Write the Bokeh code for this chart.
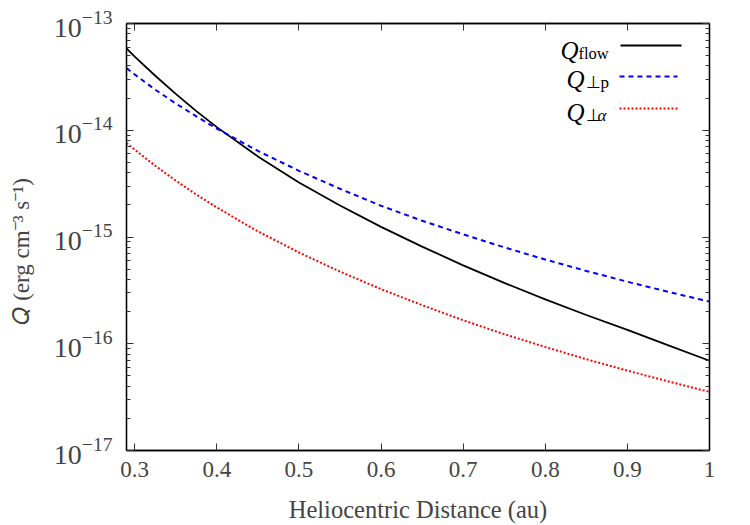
from bokeh.embed import file_html
from bokeh.models import (Arrow, CustomJSTickFormatter, FixedTicker, Label,
                          LinearAxis, LogAxis, LogTickFormatter, Range1d)
from bokeh.plotting import figure
from bokeh.resources import INLINE

# Heating rates versus heliocentric distance (erg cm^-3 s^-1)
r_au = [0.29, 0.30, 0.325, 0.35, 0.375, 0.40, 0.45, 0.50, 0.55, 0.60,
        0.65, 0.70, 0.75, 0.80, 0.85, 0.90, 0.95, 1.00]

q_flow = [5.83e-14, 4.90e-14, 3.24e-14, 2.19e-14, 1.51e-14, 1.07e-14,
          5.69e-15, 3.24e-15, 1.97e-15, 1.245e-15, 8.13e-16, 5.43e-16,
          3.72e-16, 2.60e-16, 1.86e-16, 1.35e-16, 9.66e-17, 6.93e-17]

q_perp_p = [3.82e-14, 3.33e-14, 2.40e-14, 1.78e-14, 1.35e-14, 1.035e-14,
            6.40e-15, 4.17e-15, 2.83e-15, 1.96e-15, 1.42e-15, 1.06e-15,
            8.00e-16, 6.15e-16, 4.81e-16, 3.81e-16, 3.06e-16, 2.48e-16]

q_perp_alpha = [7.59e-15, 6.58e-15, 4.65e-15, 3.37e-15, 2.50e-15, 1.89e-15,
                1.13e-15, 7.16e-16, 4.74e-16, 3.25e-16, 2.30e-16, 1.66e-16,
                1.23e-16, 9.33e-17, 7.16e-17, 5.60e-17, 4.43e-17, 3.54e-17]

x_ticks = [0.3, 0.4, 0.5, 0.6, 0.7, 0.8, 0.9, 1.0]
y_decades = [-17, -16, -15, -14, -13]

SERIF = "Liberation Serif"

y_major = [10.0 ** e for e in y_decades]
y_minor = [m * 10.0 ** e for e in y_decades[:-1] for m in range(2, 10)]

p = figure(width=750, height=525,
           x_range=Range1d(0.29, 1.0), y_range=Range1d(1e-17, 1e-13),
           y_axis_type="log", output_backend="svg", toolbar_location=None,
           min_border_left=126, min_border_right=41,
           min_border_top=23, min_border_bottom=74)
p.grid.visible = False
p.outline_line_color = "black"
p.outline_line_width = 1.3
p.background_fill_color = "white"
p.border_fill_color = "white"

series = [
    (q_flow, dict(line_color="black", line_width=1.8)),
    (q_perp_p, dict(line_color="#0000ff", line_width=2, line_dash="5 4")),
    (q_perp_alpha, dict(line_color="#ff0000", line_width=2, line_dash="2 2")),
]
for values, style in series:
    p.line(r_au, values, **style)


def style_axis(ax, minor=True):
    ax.axis_line_color = "black"
    ax.axis_line_width = 1.3
    ax.major_tick_in = 7
    ax.major_tick_out = 0
    ax.minor_tick_in = 4
    ax.minor_tick_out = 0
    ax.major_tick_line_color = "#333333"
    ax.minor_tick_line_color = "#333333" if minor else None


# bottom x axis
xa = p.xaxis[0]
xa.ticker = FixedTicker(ticks=x_ticks)
xa.major_label_overrides = {1.0: "1"}
xa.major_label_text_font = SERIF
xa.major_label_text_font_size = "23px"
xa.major_label_standoff = 11
xa.axis_label = "Heliocentric Distance (au)"
xa.axis_label_text_font = SERIF
xa.axis_label_text_font_style = "normal"
xa.axis_label_text_font_size = "24.5px"
xa.axis_label_standoff = 16
style_axis(xa, minor=False)

# left y axis (trailing no-break spaces nudge the centred title downwards)
ya = p.yaxis[0]
ya.ticker = FixedTicker(ticks=y_major, minor_ticks=y_minor)
ya.formatter = LogTickFormatter()
ya.major_label_text_font = SERIF
ya.major_label_text_font_size = "28px"
ya.major_label_standoff = 14
ya.axis_label = "𝑄 (erg cm⁻³ s⁻¹)" + "\u00a0" * 5
ya.axis_label_text_font = SERIF
ya.axis_label_text_font_style = "normal"
ya.axis_label_text_font_size = "23px"
ya.axis_label_standoff = 17
style_axis(ya)

# mirrored tick marks on top and right, without labels
blank = CustomJSTickFormatter(code="return ''")
xt = LinearAxis(ticker=FixedTicker(ticks=x_ticks), formatter=blank,
                major_label_standoff=0)
style_axis(xt, minor=False)
p.add_layout(xt, "above")

yr = LogAxis(ticker=FixedTicker(ticks=y_major, minor_ticks=y_minor),
             formatter=blank, major_label_standoff=0)
style_axis(yr)
p.add_layout(yr, "right")

# legend sample lines in screen units
legend_rows = [
    (405, 494, 555, dict(line_color="black", line_width=1.8)),
    (374, 493, 551, dict(line_color="#0000ff", line_width=2, line_dash="5 4")),
    (342, 493, 553, dict(line_color="#ff0000", line_width=2, line_dash="2 2")),
]
for yy, x0, x1, style in legend_rows:
    p.add_layout(Arrow(end=None, x_start=x0, y_start=yy, x_end=x1, y_end=yy,
                       start_units="screen", end_units="screen", **style))


def screen_label(x, y, text, size, style="normal", align="left"):
    p.add_layout(Label(x=x, y=y, x_units="screen", y_units="screen",
                       text=text, text_font=SERIF, text_font_size=size,
                       text_font_style=style, text_align=align,
                       text_baseline="alphabetic", text_color="black"))


# legend texts: Q with subscripts
screen_label(452, 400, "Q", "25px", "italic", "right")
screen_label(452, 397, "flow", "16.5px")
screen_label(458, 371, "Q", "25px", "italic", "right")
screen_label(459, 368, "⊥p", "17px")
screen_label(458, 338, "Q", "25px", "italic", "right")
screen_label(459, 335, "⊥", "17px")
screen_label(471, 335, "α", "17px", "italic")

open("out.html", "w").write(file_html(p, INLINE))
